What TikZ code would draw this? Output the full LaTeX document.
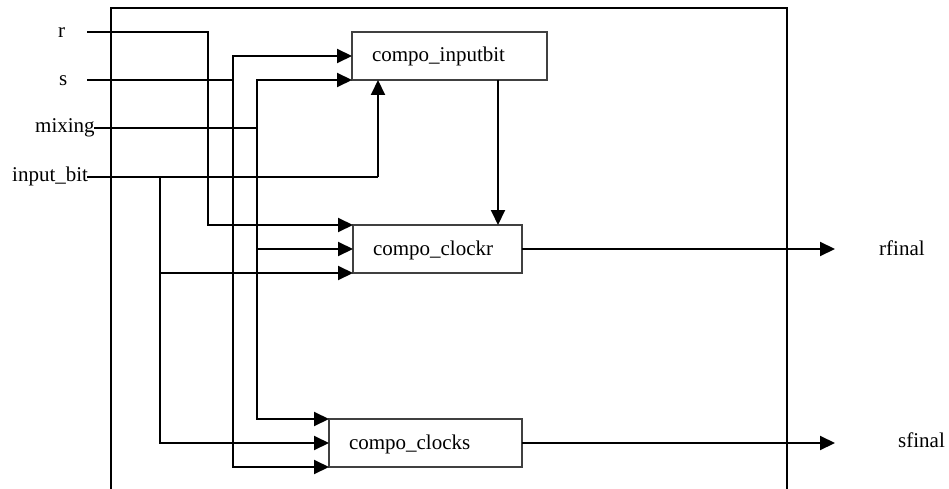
\documentclass[tikz,border=0pt]{standalone}
\usepackage{fontspec}
\setmainfont{Liberation Serif}
\usetikzlibrary{arrows.meta}
\begin{document}
\begin{tikzpicture}[x=1pt,y=-1pt,
  wire/.style={line width=2pt, black},
  feed/.style={wire, -{Triangle[length=15pt,width=14pt]}},
  block/.style={draw=black!75, line width=1.5pt, anchor=north west, outer sep=0pt,
    minimum height=48pt, inner xsep=20pt, inner ysep=0pt, align=left,
    text height=15pt, text depth=3pt, font=\fontsize{21}{25}\selectfont},
  lbl/.style={anchor=base west, inner sep=0pt, font=\fontsize{21}{25}\selectfont}]
\useasboundingbox (0,0) rectangle (949,489);

% enclosing entity frame (open at the bottom edge)
\coordinate (fbl) at (111,489);
\coordinate (ftr) at (787,8);
\coordinate (fbr) at (787,489);
\draw[wire] (fbl) |- (ftr) -- (fbr);

% component instances
\node[block, text width=155pt] (inputbit) at (352,32) {compo\_inputbit};
\node[block, text width=129pt] (clockr)   at (353,225) {compo\_clockr};
\node[block, text width=153pt] (clocks)   at (329,419) {compo\_clocks};

% port names
\node[lbl] (lr) at (58,38)  {r};
\node[lbl] (ls) at (59,86)  {s};
\node[lbl] (lm) at (35,133) {mixing};
\node[lbl] (li) at (12,182) {input\_bit};
\node[lbl] (lrf) at (879,255) {rfinal};
\node[lbl] (lsf) at (898,447) {sfinal};

% port wire ends
\coordinate (rin) at (87,32);
\coordinate (sin) at (87,80);
\coordinate (min) at (94,128);
\coordinate (iin) at (87,177);
\coordinate (rout) at (835,249);
\coordinate (sout) at (835,442);

% bus taps
\coordinate (sbus) at (233,80);
\coordinate (mbus) at (257,128);
\coordinate (ibus) at (160,177);
\coordinate (itap) at (378,177);
\coordinate (ctap) at (498,80);

% r
\draw[feed] (rin) -- (208,32) |- (clockr.north west);
% s
\draw[wire] (sin) -- (sbus);
\draw[feed] (sbus) |- (inputbit.west);
\draw[feed] (sbus) |- (clocks.south west);
% mixing
\draw[wire] (min) -- (mbus);
\draw[feed] (mbus) |- (inputbit.south west);
\draw[feed] (mbus) |- (clockr.west);
\draw[feed] (mbus) |- (clocks.north west);
% input_bit
\draw[wire] (iin) -- (itap);
\draw[feed] (itap) -- (itap |- inputbit.south);
\draw[feed] (ibus) |- (clockr.south west);
\draw[feed] (ibus) |- (clocks.west);
% inputbit -> clockr
\draw[feed] (ctap) -- (ctap |- clockr.north);
% outputs
\draw[feed] (clockr.east) -- (clockr.east -| rout);
\draw[feed] (clocks.east) -- (clocks.east -| sout);
\end{tikzpicture}
\end{document}
